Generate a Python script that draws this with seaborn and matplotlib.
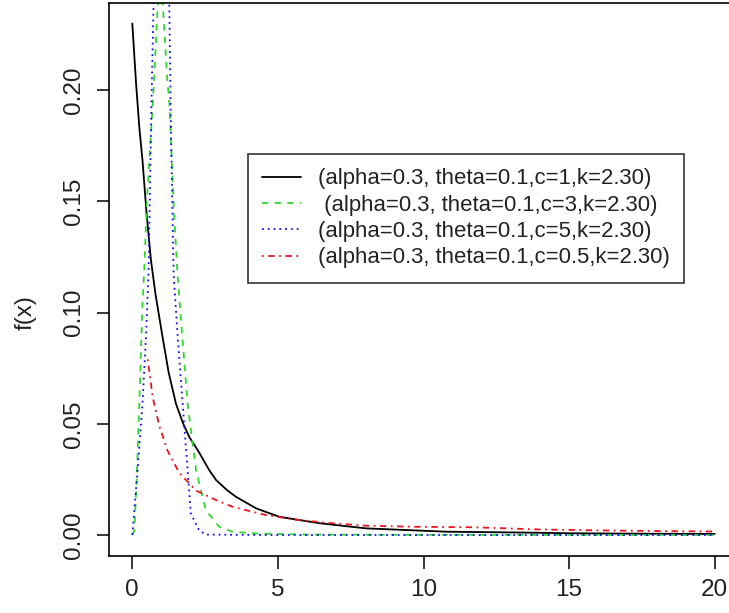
import matplotlib
matplotlib.use("Agg")
import matplotlib.pyplot as plt
import seaborn as sns

# Values
x_c1 = [0, 0.13, 0.24, 0.35, 0.49, 0.64, 0.80, 1.04, 1.25, 1.50, 1.75, 1.96, 2.30,
        2.65, 2.88, 3.27, 3.56, 4.25, 5.05, 6.43, 8.03, 10.78, 13.5, 15, 17.5, 20]
y_c1 = [0.230, 0.203, 0.1835, 0.1685, 0.1446, 0.1236, 0.108, 0.089, 0.073, 0.059,
        0.050, 0.044, 0.037, 0.029, 0.0247, 0.020, 0.0172, 0.012, 0.0082, 0.0053,
        0.0030, 0.0015, 0.0011, 0.0008, 0.0006, 0.0005]

x_c3 = [0, 0.07, 0.15, 0.24, 0.35, 0.41, 0.50, 0.64, 0.75, 0.86, 0.96, 1.05, 1.20,
        1.27, 1.44, 1.56, 1.67, 1.90, 2.19, 2.53, 2.99, 3.44, 4.25, 6, 10, 20]
y_c3 = [0, 0.002, 0.025, 0.059, 0.104, 0.119, 0.150, 0.180, 0.205, 0.235, 0.248,
        0.238, 0.205, 0.195, 0.143, 0.116, 0.097, 0.059, 0.029, 0.011, 0.0037,
        0.0015, 0.0007, 0.0002, 0.0001, 0]

x_c5 = [0, 0.18, 0.35, 0.47, 0.56, 0.60, 0.66, 0.73, 0.85, 1.0, 1.15, 1.27, 1.33,
        1.42, 1.56, 1.73, 1.90, 2.01, 2.30, 2.53, 5, 10, 20]
y_c5 = [0, 0.029, 0.059, 0.089, 0.119, 0.150, 0.195, 0.239, 0.32, 0.36, 0.32, 0.239,
        0.180, 0.117, 0.089, 0.059, 0.029, 0.0097, 0.002, 0.0002, 0, 0, 0]

x_c05 = [0.53, 0.70, 0.93, 1.21, 1.61, 2.19, 2.88, 3.44, 4.58, 5.74, 6.88, 8.03,
         9.74, 11.7, 14, 16, 18, 20]
y_c05 = [0.079, 0.062, 0.049, 0.038, 0.028, 0.020, 0.0157, 0.0127, 0.009, 0.0067,
         0.0053, 0.0042, 0.0037, 0.0035, 0.0025, 0.0021, 0.0018, 0.0016]

labels = ["(alpha=0.3, theta=0.1,c=1,k=2.30)",
          " (alpha=0.3, theta=0.1,c=3,k=2.30)",
          "(alpha=0.3, theta=0.1,c=5,k=2.30)",
          "(alpha=0.3, theta=0.1,c=0.5,k=2.30)"]
x_ticks = [0, 5, 10, 15, 20]
y_ticks = [0.00, 0.05, 0.10, 0.15, 0.20]

sns.set_theme(style="ticks")
plt.rcParams["font.family"] = ["Liberation Sans", "DejaVu Sans"]

fig = plt.figure(figsize=(7.29, 6.13), dpi=100)
ax = fig.add_axes([109 / 729, 57.5 / 613, 629 / 729, 552.5 / 613])

series = [
    (x_c1, y_c1, "black", "-"),
    (x_c3, y_c3, "#2ed82e", (0, (3.5, 3.5))),
    (x_c5, y_c5, "#1010ee", (0, (1, 2.2))),
    (x_c05, y_c05, "#e8141e", (0, (1, 2.5, 3.5, 2.5))),
]
for (xs, ys, col, ls), lab in zip(series, labels):
    sns.lineplot(x=xs, y=ys, color=col, linestyle=ls, linewidth=1.3, sort=False,
                 estimator=None, label=lab, ax=ax)

ax.set_xlim(-0.8, 20.8)
ax.set_ylim(-0.0092, 0.2392)
ax.set_xticks(x_ticks)
ax.set_yticks(y_ticks)
ax.set_xticklabels([str(t) for t in x_ticks])
ax.set_yticklabels([f"{t:.2f}" for t in y_ticks], rotation=90, va="center")
ax.tick_params(axis="both", direction="out", length=9, width=1.1, labelsize=17.5,
               pad=8, colors="black", labelcolor="#222222")
for sp in ax.spines.values():
    sp.set_color("black")
    sp.set_linewidth(1.2)

ax.set_xlabel("")
ax.set_ylabel("f(x)", fontsize=17.5, color="#222222")
ax.yaxis.set_label_coords(-0.1145, 0.439)

leg = ax.legend(loc="upper left", bbox_to_anchor=(248 / 729, 1 - 154 / 613),
                bbox_transform=fig.transFigure, fontsize=15.9, frameon=True,
                fancybox=False, edgecolor="black", handlelength=1.75,
                handletextpad=0.75, borderpad=0.65, labelspacing=0.24,
                borderaxespad=0)
leg.get_frame().set_linewidth(1.2)
for t in leg.get_texts():
    t.set_color("#222222")

fig.savefig("out.png", dpi=100)
